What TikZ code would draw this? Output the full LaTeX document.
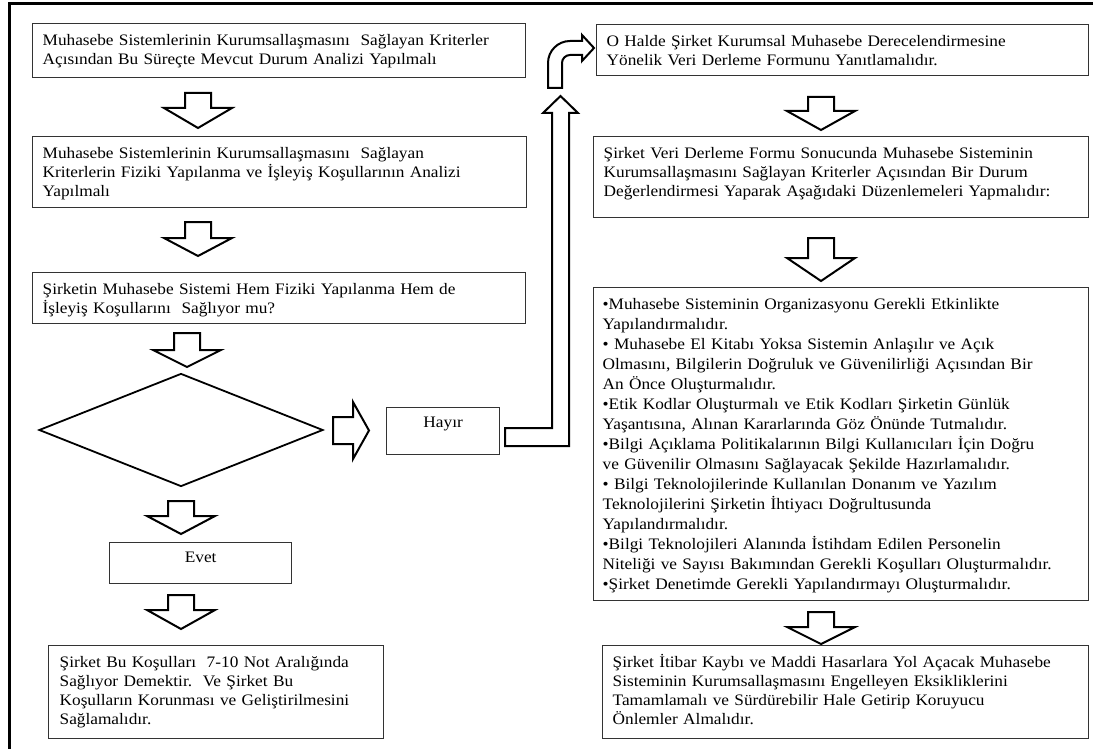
\documentclass[tikz,border=0pt]{standalone}
\usepackage{fontspec}
\setmainfont[FakeStretch=1.08]{Liberation Serif}
\usetikzlibrary{shapes.geometric}
\begin{document}
\begin{tikzpicture}[x=1pt,y=-1pt,
 kutu/.style={draw=black!80,line width=1.3pt,anchor=north west,align=left,
  inner xsep=10pt,inner ysep=0pt,text height=22pt,font=\fontsize{16}{19}\selectfont},
 blokok/.style={draw,line width=2pt,fill=white,line join=miter},
 ]
 \useasboundingbox (0,0) rectangle (1093,749);
 \draw[line width=3pt] (9,749) -- (9,4) -- (1093,4);
 % <<< sol sütun
 \node[kutu,text width=473pt,text depth=32pt] (b1) at (32,23)
  {Muhasebe Sistemlerinin Kurumsallaşmasını\ \ Sağlayan Kriterler\\
   Açısından Bu Süreçte Mevcut Durum Analizi Yapılmalı};
 \node[kutu,text width=474pt,text depth=49pt] (b2) at (32,136)
  {Muhasebe Sistemlerinin Kurumsallaşmasını\ \ Sağlayan\\
   Kriterlerin Fiziki Yapılanma ve İşleyiş Koşullarının Analizi\\
   Yapılmalı};
 \node[kutu,text width=473pt,text depth=29pt] (b3) at (32,272)
  {Şirketin Muhasebe Sistemi Hem Fiziki Yapılanma Hem de\\
   İşleyiş Koşullarını\ \ Sağlıyor mu?};
 \node[draw,diamond,line width=1.8pt,inner sep=0pt,
  minimum width=284pt,minimum height=113pt] (karar) at (181,430) {};
 \node[kutu,align=center,text width=93pt,text height=20pt,text depth=27pt] (hayir) at (386,407) {Hayır};
 \node[kutu,align=center,text width=162pt,text height=20pt,text depth=21pt] (evet) at (109,542) {Evet};
 \node[kutu,text width=313pt,inner xsep=11pt,text depth=71pt] (b4) at (48,645)
  {Şirket Bu Koşulları\ \ 7-10 Not Aralığında\\
   Sağlıyor Demektir.\ \ Ve Şirket Bu\\
   Koşulların Korunması ve Geliştirilmesini\\
   Sağlamalıdır.};
 % <<< sağ sütun
 \node[kutu,text width=472pt,text depth=29pt] (s1) at (596,24)
  {O Halde Şirket Kurumsal Muhasebe Derecelendirmesine\\
   Yönelik Veri Derleme Formunu Yanıtlamalıdır.};
 \node[kutu,text width=475pt,text depth=59pt] (s2) at (593,136)
  {Şirket Veri Derleme Formu Sonucunda Muhasebe Sisteminin\\
   Kurumsallaşmasını Sağlayan Kriterler Açısından Bir Durum\\
   Değerlendirmesi Yaparak Aşağıdaki Düzenlemeleri Yapmalıdır:};
 \node[kutu,text width=477pt,inner xsep=9pt,text depth=291pt,font=\fontsize{16}{20}\selectfont] (s3) at (593,287)
  {•Muhasebe Sisteminin Organizasyonu Gerekli Etkinlikte\\
   Yapılandırmalıdır.\\
   • Muhasebe El Kitabı Yoksa Sistemin Anlaşılır ve Açık\\
   Olmasını, Bilgilerin Doğruluk ve Güvenilirliği Açısından Bir\\
   An Önce Oluşturmalıdır.\\
   •Etik Kodlar Oluşturmalı ve Etik Kodları Şirketin Günlük\\
   Yaşantısına, Alınan Kararlarında Göz Önünde Tutmalıdır.\\
   •Bilgi Açıklama Politikalarının Bilgi Kullanıcıları İçin Doğru\\
   ve Güvenilir Olmasını Sağlayacak Şekilde Hazırlamalıdır.\\
   • Bilgi Teknolojilerinde Kullanılan Donanım ve Yazılım\\
   Teknolojilerini Şirketin İhtiyacı Doğrultusunda\\
   Yapılandırmalıdır.\\
   •Bilgi Teknolojileri Alanında İstihdam Edilen Personelin\\
   Niteliği ve Sayısı Bakımından Gerekli Koşulları Oluşturmalıdır.\\
   •Şirket Denetimde Gerekli Yapılandırmayı Oluşturmalıdır.};
 \node[kutu,text width=466pt,text depth=71pt] (s4) at (602,645)
  {\mbox{Şirket İtibar Kaybı ve Maddi Hasarlara Yol Açacak Muhasebe}\\
   Sisteminin Kurumsallaşmasını Engelleyen Eksikliklerini\\
   Tamamlamalı ve Sürdürebilir Hale Getirip Koruyucu\\
   Önlemler Almalıdır.};
 % <<< blok oklar
 \foreach \x/\t/\b/\e in {198/93/108/128,198/222/238/256,187/333/350/367,
  181/501/516/534,181/595/610/629,821/97/111/130,821/238/258/281,821/612/627/644}
  \draw[blokok] (\x-13,\t) -- (\x+13,\t) -- (\x+13,\b) -- (\x+34,\b)
   -- (\x,\e) -- (\x-34,\b) -- (\x-13,\b) -- cycle;
 \draw[blokok] (333,417) -- (353,417) -- (353,402) -- (369,430.5)
  -- (353,459) -- (353,444) -- (333,444) -- cycle;
 \draw[blokok] (505,428) -- (552,428) -- (552,113) -- (543,113) -- (560.5,96)
  -- (578,113) -- (569,113) -- (569,446) -- (505,446) -- cycle;
 \draw[blokok] (548,88) -- (548,63) arc(180:270:22) -- (582,41) -- (582,35)
  -- (594,48) -- (582,61) -- (582,55) -- (570,55) arc(270:180:8) -- (562,88) -- cycle;
\end{tikzpicture}
\end{document}
